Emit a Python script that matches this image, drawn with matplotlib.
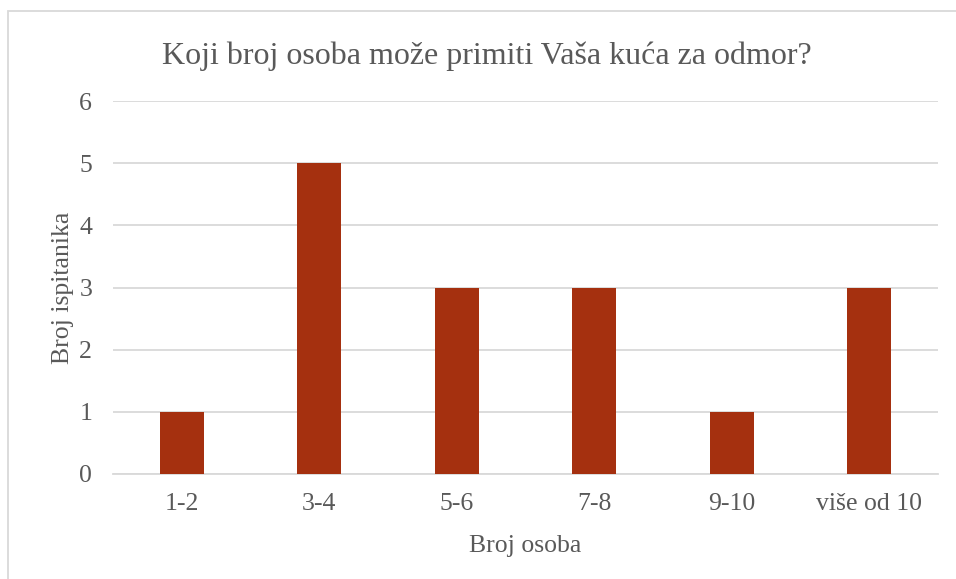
import matplotlib.pyplot as plt
import numpy as np

categories = ['1-2', '3-4', '5-6', '7-8', '9-10', 'više od 10']
counts = [1, 5, 3, 3, 1, 3]

plt.rcParams['font.family'] = ['Liberation Serif', 'DejaVu Serif']
text_color = '#595959'

fig = plt.figure(figsize=(9.56, 5.79), dpi=100)
ax = fig.add_axes([113 / 956, 1 - 474 / 579, 825 / 956, 373 / 579])

x = np.arange(len(categories))
ax.bar(x, counts, width=0.32, color='#A5300F', zorder=3)

ax.set_xlim(-0.5, len(categories) - 0.5)
ax.set_ylim(0, 6)
ax.set_yticks(range(0, 7))
ax.set_xticks(x)
ax.set_xticklabels(categories)
ax.grid(axis='y', color='#D9D9D9', linewidth=1.3, zorder=0)
for s in ['top', 'right', 'left']:
    ax.spines[s].set_visible(False)
ax.spines['bottom'].set_color('#D9D9D9')
ax.spines['bottom'].set_linewidth(1.3)
ax.tick_params(length=0, labelsize=18.5, colors=text_color)
ax.tick_params(axis='x', pad=14)
ax.tick_params(axis='y', pad=15)

ax.set_xlabel('Broj osoba', fontsize=18.5, color=text_color, labelpad=14)
ax.set_ylabel('Broj ispitanika', fontsize=18.5, color=text_color, labelpad=4)
fig.text(487 / 956, 1 - 56 / 579, 'Koji broj osoba može primiti Vaša kuća za odmor?',
         fontsize=23, color=text_color, ha='center', va='center')

# chart frame
fig.add_artist(plt.Rectangle((8 / 956, -0.05), 1.1, 1 - 11 / 579 + 0.05,
                             transform=fig.transFigure, fill=False,
                             edgecolor='#D9D9D9', linewidth=1.3))

plt.savefig('out.png', dpi=100)
plt.close()
